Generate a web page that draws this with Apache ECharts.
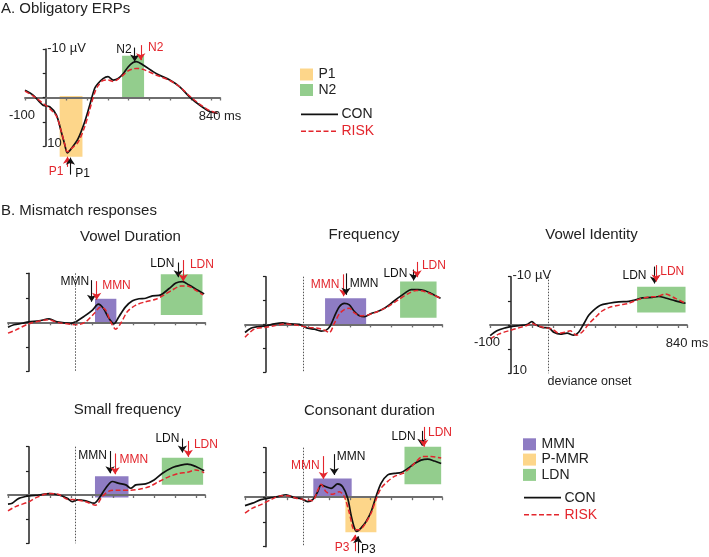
<!DOCTYPE html>
<html><head><meta charset="utf-8">
<script src="https://cdn.jsdelivr.net/npm/echarts@6/dist/echarts.min.js"></script>
<style>html,body{margin:0;padding:0;background:#fff}#c{width:709px;height:557px}</style>
</head><body><div id="c"></div>
<script>
// ---------- DATA (time in ms, amplitude in µV; negative plotted up) ----------
// axis texts: [text, time, µV, anchor]
const axisTexts = [['-10 µV',5,-10.2,'start'],['10',5,9.5,'start'],['-100',-100,3.7,'center'],['840 ms',840,3.9,'center']];

// A. Obligatory ERPs
const aConT  = [-100,-61,-13,19,51,75,92,104,124,156,188,212,236,252,276,300,325,349,373,397,421,437,469,534,598,646,694,743,791,829];
const aConV  = [-1.5,-0.5,1.6,1.9,3.6,7.1,9.8,11.4,10.5,8.5,5.0,1.6,-1.9,-2.9,-3.9,-4.3,-3.6,-3.9,-4.9,-6.3,-7.2,-7.4,-6.7,-4.9,-3.6,-2.2,-0.1,1.6,2.9,3.3];
const aRiskT = [-100,-60,-13,19,51,75,92,104,124,156,188,212,236,252,276,300,325,349,373,397,421,437,469,534,598,646,694,743,791,829];
const aRiskV = [-1.3,-0.3,1.2,2.3,3.8,7.0,9.7,11.2,10.5,9.2,6.0,2.5,-1.0,-2.4,-3.5,-3.6,-3.3,-3.8,-4.6,-5.5,-5.9,-6.0,-5.8,-4.6,-3.5,-2.2,-0.3,1.4,2.7,3.2];
const aAreas  = [['P1',67,177,-0.3,12.2],['N2',368,474,-8.6,0]];
const aArrows = [['CON',429,-10.3,-7.4],['RISK',458,-10.8,-7.7],['RISK',105,14.3,12.2],['CON',119,15.9,12.4]];
const aLabels = [['N2',421,-9.8,'CON','end'],['N2',486,-10.2,'RISK','start'],['P1',92,15.3,'RISK','end'],['P1',135,15.7,'CON','start']];

// Vowel Duration
const vdConT  = [-100,-72,-32,0,48,96,135,199,223,263,303,331,354,382,406,430,462,494,525,557,589,629,669,701,732,764,804,836];
const vdConV  = [1.0,0.5,0.2,-0.1,-0.3,-0.7,-0.1,0.2,-0.1,-1.2,-2.5,-3.7,-2.9,-0.8,0.3,-1.2,-3.2,-4.4,-4.8,-4.9,-5.4,-5.6,-6.9,-8.0,-8.3,-7.6,-6.6,-5.8];
const vdRiskT = [-100,-64,0,96,135,199,231,271,311,342,366,390,414,438,470,510,557,605,637,685,725,756,796,831];
const vdRiskV = [2.2,1.6,0.3,-0.5,0,0.4,0.5,-0.1,-1.8,-3.1,-2.5,-0.1,1.4,0.2,-2.2,-3.5,-4.2,-4.7,-5.4,-6.6,-7.4,-7.4,-6.5,-5.6];
const vdAreas  = [['MMN',315,417,-4.8,0],['LDN',629,828,-9.8,-1.5]];
const vdArrows = [['CON',299,-8.6,-4.2],['RISK',323,-8.4,-4.6],['CON',712,-12.2,-9.2],['RISK',736,-12.7,-8.4]];
const vdLabels = [['MMN',295,-8.2,'CON','end'],['MMN',342,-7.4,'RISK','start'],['LDN',701,-12.0,'CON','end'],['LDN',761,-11.7,'RISK','start']];
const vdOnset = 223;

// Frequency
const frConT  = [-100,-72,-40,0,40,80,119,159,199,231,263,287,307,326,350,374,398,422,446,470,502,533,565,597,629,661,693,725,756,788,833];
const frConV  = [1.7,0.8,0.5,0.3,-0.1,-0.3,-0.1,0,0.8,1.0,1.4,1.2,0.3,-1.6,-3.7,-4.4,-4.1,-2.7,-1.8,-1.6,-2.3,-2.7,-3.4,-4.4,-5.5,-6.5,-7.3,-7.3,-7.1,-6.5,-5.5];
const frRiskT = [-100,-56,0,40,88,151,199,247,279,303,326,350,374,398,422,454,486,533,581,629,677,717,756,796,833];
const frRiskV = [2.7,1.0,0.6,0.3,-0.1,0.2,0.6,0.8,1.2,1.7,-0.2,-2.2,-3.1,-3.4,-2.4,-1.8,-2.0,-2.7,-3.7,-5.1,-6.4,-7.1,-6.9,-6.2,-5.5];
const frAreas  = [['MMN',282,478,-5.5,0.3],['LDN',640,814,-9.0,-1.4]];
const frArrows = [['RISK',371,-10.5,-5.9],['CON',382,-10.7,-6.2],['CON',705,-11.5,-9.2],['RISK',721,-13.1,-9.9]];
const frLabels = [['MMN',358,-8.3,'RISK','end'],['MMN',393,-8.6,'CON','start'],['LDN',682,-10.7,'CON','end'],['LDN',737,-12.3,'RISK','start']];
const frOnset = 178;

// Vowel Identity
const viConT  = [-99,-67,-27,5,45,76,100,116,148,180,204,236,268,299,323,347,371,395,427,467,514,562,594,626,674,705,737,785,833];
const viConV  = [2.2,1.2,0.6,0.3,0.1,-0.1,-0.7,-0.1,0.5,0.6,1.5,1.9,1.7,2.1,1.5,-0.2,-2.0,-3.1,-4.1,-4.5,-4.8,-4.9,-5.2,-5.6,-5.7,-5.9,-5.6,-5.0,-4.5];
const viRiskT = [-99,-59,-11,37,76,100,124,164,196,228,260,283,312,339,371,403,435,467,514,562,610,658,697,737,785,833];
const viRiskV = [2.9,1.9,1.2,0.6,0.1,-0.3,0.1,0.6,0.8,1.7,1.5,1.2,2.1,1.5,-0.2,-1.6,-2.9,-3.6,-4.1,-4.5,-5.3,-5.8,-5.9,-6.4,-5.5,-4.5];
const viAreas  = [['LDN',602,833,-7.9,-2.6]];
const viArrows = [['CON',685,-12.1,-8.6],['RISK',693,-12.4,-9.0]];
const viLabels = [['LDN',654,-10.3,'CON','end'],['LDN',705,-11.0,'RISK','start']];
const viOnset = 180;
const viOnsetText = ['deviance onset',172,11.7];

// Small frequency
const sfConT  = [-100,-80,-48,0,48,96,143,183,207,231,271,311,334,366,398,430,462,486,510,557,597,637,685,725,756,796,836];
const sfConV  = [1.9,1.7,0.7,0.2,0,-0.3,0,0.7,1.4,1.0,1.2,1.7,0.7,-1.4,-2.8,-2.4,-2.1,-1.4,-2.1,-2.3,-3.1,-4.5,-5.7,-6.2,-6.4,-5.9,-5.0];
const sfRiskT = [-100,-64,0,32,96,143,183,231,271,318,350,382,430,486,525,573,621,669,717,756,796,836];
const sfRiskV = [3.3,2.4,1.4,0.6,-0.3,-0.1,0.9,1.0,1.4,2.1,0.3,-0.8,-1.0,-1.0,-1.2,-1.7,-2.8,-3.8,-4.5,-4.7,-5.2,-4.6];
const sfAreas  = [['MMN',315,475,-3.9,0.5],['LDN',634,831,-7.7,-2.1]];
const sfArrows = [['CON',387,-9.1,-4.5],['RISK',411,-8.6,-4.3],['CON',732,-11.7,-8.8],['RISK',760,-11.2,-7.9]];
const sfLabels = [['MMN',379,-8.1,'CON','end'],['MMN',425,-7.4,'RISK','start'],['LDN',725,-11.7,'CON','end'],['LDN',780,-10.5,'RISK','start']];
const sfOnset = 223;

// Consonant duration
const cdConT  = [-100,-64,-24,24,56,96,135,167,199,223,247,263,287,311,342,366,390,406,422,433,454,478,502,525,549,581,613,645,677,709,740,772,804,836];
const cdConV  = [1.7,1.2,0.5,0.1,-0.1,-0.5,0.1,0.3,0.9,0.5,-1.1,-2.5,-2.1,-1.8,-2.7,-2.1,0.2,3.6,6.2,6.9,6.2,4.9,2.9,-0.1,-2.8,-4.5,-4.8,-5.0,-5.8,-6.8,-7.5,-7.7,-7.3,-6.8];
const cdRiskT = [-100,-64,-24,24,72,104,143,183,223,244,263,287,318,350,374,398,422,446,470,502,525,549,581,613,653,685,717,748,788,836];
const cdRiskV = [3.2,2.2,1.5,0.5,-0.3,-0.3,0.2,0.5,0.7,-1.1,-2.6,-1.1,-0.6,-1.1,-0.1,3.2,6.6,6.6,5.6,3.2,0.5,-1.8,-3.2,-4.2,-4.8,-5.8,-7.2,-8.2,-8.2,-7.9];
const cdAreas  = [['MMN',226,409,-3.8,0],['P-MMR',379,527,0,7.1],['LDN',661,836,-10.2,-2.6]];
const cdArrows = [['RISK',274,-8.3,-3.7],['CON',326,-8.7,-4.5],['CON',744,-13.4,-10.4],['RISK',753,-14.2,-10.2],['RISK',425,10.9,7.6],['CON',438,11.3,7.9]];
const cdLabels = [['MMN',263,-6.3,'RISK','end'],['MMN',331,-8.2,'CON','start'],['LDN',721,-12.2,'CON','end'],['LDN',766,-13.1,'RISK','start'],['P3',406,10.3,'RISK','end'],['P3',446,10.6,'CON','start']];
const cdOnset = 178;

const legendA = ['P1','N2'];
const legendB = ['MMN','P-MMR','LDN'];
const groups = ['CON','RISK'];

// ---------- STYLE / LAYOUT ----------
const FONT = '"Liberation Sans", Arial, Helvetica, sans-serif';
const COL = {CON:'#111111', RISK:'#e3262d'};
const AREA_COL = {P1:'#fdd68a', N2:'#93cd8d', MMN:'#8e7cc3', 'P-MMR':'#fdd68a', LDN:'#93cd8d'};
const TXT = '#222';
const YMAX = 10;

const panels = [
  {box:[25,49,195,97],   ov:[-16,16], con:[aConT,aConV],   risk:[aRiskT,aRiskV],   areas:aAreas,  arrows:aArrows,  labels:aLabels,  onset:null,    axisText:true},
  {box:[8,273.3,197,98], ov:[-16,12], con:[vdConT,vdConV], risk:[vdRiskT,vdRiskV], areas:vdAreas, arrows:vdArrows, labels:vdLabels, onset:vdOnset, axisText:false},
  {box:[245,276.7,197,95.4], ov:[-16,12], con:[frConT,frConV], risk:[frRiskT,frRiskV], areas:frAreas, arrows:frArrows, labels:frLabels, onset:frOnset, axisText:false},
  {box:[490,276.7,197,96.6], ov:[-16,12], con:[viConT,viConV], risk:[viRiskT,viRiskV], areas:viAreas, arrows:viArrows, labels:viLabels, onset:viOnset, axisText:true, onsetText:viOnsetText},
  {box:[8,446.7,197,96.6], ov:[-16,12], con:[sfConT,sfConV], risk:[sfRiskT,sfRiskV], areas:sfAreas, arrows:sfArrows, labels:sfLabels, onset:sfOnset, axisText:false},
  {box:[245,447.7,197,99], ov:[-16,12], con:[cdConT,cdConV], risk:[cdRiskT,cdRiskV], areas:cdAreas, arrows:cdArrows, labels:cdLabels, onset:cdOnset, axisText:false}
];

const zip = (t, v) => t.map((x, i) => [x, v[i]]);
const POS = {end:'left', start:'right', center:'inside'};

const option = {animation:false, grid:[], xAxis:[], yAxis:[], series:[], graphic:[]};

panels.forEach(p => {
  const [L, T, W, H] = p.box;
  const gi = option.grid.length;
  const unit = H / (2 * YMAX);
  const oTop = T - (-YMAX - p.ov[0]) * unit;
  const oH = (p.ov[1] - p.ov[0]) * unit;
  option.grid.push({left:L, top:T, width:W, height:H, outerBoundsMode:'none', containLabel:false});
  option.grid.push({left:L, top:oTop, width:W, height:oH, outerBoundsMode:'none', containLabel:false});
  option.xAxis.push({
    gridIndex:gi, type:'value', min:-100, max:840, interval:100, z:2,
    axisLine:{onZero:true, lineStyle:{color:'#6e6e6e', width:1.8}},
    axisTick:{show:true, length:3, lineStyle:{color:'#6e6e6e', width:1.3}},
    axisLabel:{show:false}, splitLine:{show:false}
  });
  option.yAxis.push({
    gridIndex:gi, type:'value', inverse:true, min:-YMAX, max:YMAX, interval:5, z:2,
    axisLine:{onZero:true, lineStyle:{color:'#222', width:1.5}},
    axisTick:{show:true, length:3, lineStyle:{color:'#222', width:1.2}},
    axisLabel:{show:false}, splitLine:{show:false}
  });
  option.xAxis.push({gridIndex:gi + 1, type:'value', min:-100, max:840, show:false});
  option.yAxis.push({gridIndex:gi + 1, type:'value', inverse:true, min:p.ov[0], max:p.ov[1], show:false});

  option.series.push({type:'line', xAxisIndex:gi, yAxisIndex:gi, data:[], silent:true});

  const ai = gi + 1;
  let texts = p.labels.map(l => ({name:l[0], coord:[l[1], l[2]],
    label:{show:true, position:POS[l[4]], distance:1, formatter:q => q.name,
      fontFamily:FONT, fontSize:12, color:COL[l[3]]}}));
  if (p.axisText) {
    texts = texts.concat(axisTexts.map(a => ({name:a[0], coord:[a[1], a[2]],
      label:{show:true, position:POS[a[3]], distance:0, formatter:q => q.name,
        offset:a[1] < 0 ? [-3, 0] : [0, 0],
        fontFamily:FONT, fontSize:13, color:TXT}})));
  }
  if (p.onsetText) {
    const o = p.onsetText;
    texts.push({name:o[0], coord:[o[1], o[2]],
      label:{show:true, position:'right', distance:0, formatter:q => q.name,
        fontFamily:FONT, fontSize:12.5, color:TXT}});
  }
  option.series.push({
    type:'line', xAxisIndex:ai, yAxisIndex:ai, z:3, silent:true,
    data:zip(p.con[0], p.con[1]), showSymbol:false, symbol:'none', smooth:0.3,
    lineStyle:{color:COL.CON, width:1.7},
    markArea:{silent:true, z:1, data:p.areas.map(a => [
      {coord:[a[1], a[3]], itemStyle:{color:AREA_COL[a[0]], opacity:1}},
      {coord:[a[2], a[4]]}
    ])},
    markLine:{silent:true, animation:false, symbol:['none','arrow'], symbolSize:7,
      label:{show:false},
      data:p.arrows.map(a => [
        {coord:[a[1], a[2]], symbol:'none', lineStyle:{color:COL[a[0]], width:1.1, type:'solid'}, itemStyle:{color:COL[a[0]]}},
        {coord:[a[1], a[3]], symbol:'arrow', symbolSize:7, itemStyle:{color:COL[a[0]]}}
      ])},
    markPoint:{silent:true, animation:false, symbol:'circle', symbolSize:1,
      itemStyle:{color:'rgba(0,0,0,0)'}, data:texts}
  });
  const riskSeries = {
    type:'line', xAxisIndex:ai, yAxisIndex:ai, z:4, silent:true,
    data:zip(p.risk[0], p.risk[1]), showSymbol:false, symbol:'none', smooth:0.3,
    lineStyle:{color:COL.RISK, width:1.5, type:[5,2.5]}
  };
  if (p.onset !== null) {
    riskSeries.markLine = {silent:true, animation:false, symbol:['none','none'], label:{show:false},
      data:[[{coord:[p.onset, -YMAX], lineStyle:{color:'#555', width:1, type:[1.5,1.5]}}, {coord:[p.onset, YMAX]}]]};
  }
  option.series.push(riskSeries);
});

// ---------- TITLES & LEGENDS ----------
const text = (x, y, s, opt) => ({type:'text', x, y, style:Object.assign({text:s, font:'15px ' + FONT, fill:TXT, textVerticalAlign:'middle', textAlign:'left'}, opt || {})});
option.graphic.push(
  text(1, 9, 'A. Obligatory ERPs'),
  text(1, 211, 'B. Mismatch responses'),
  text(130.5, 237, 'Vowel Duration', {textAlign:'center'}),
  text(364, 235, 'Frequency', {textAlign:'center'}),
  text(591.5, 235, 'Vowel Identity', {textAlign:'center'}),
  text(127.5, 410, 'Small frequency', {textAlign:'center'}),
  text(369.5, 411, 'Consonant duration', {textAlign:'center'})
);
function legend(x, y0, names, step, lineY) {
  names.forEach((n, i) => {
    option.graphic.push({type:'rect', shape:{x:x, y:y0 + i * step - 6, width:13, height:12}, style:{fill:AREA_COL[n]}});
    option.graphic.push(text(x + 18.5, y0 + i * step, n, {font:'14px ' + FONT}));
  });
  groups.forEach((g, i) => {
    const y = lineY + i * 17;
    option.graphic.push({type:'line', shape:{x1:x + 1, y1:y, x2:x + 38, y2:y},
      style:{stroke:COL[g], lineWidth:g === 'CON' ? 1.7 : 1.5, lineDash:g === 'CON' ? null : [5, 2.5]}});
    option.graphic.push(text(x + 41.5, y, g, {font:'14px ' + FONT, fill:g === 'CON' ? TXT : COL.RISK}));
  });
}
legend(300, 74.5, legendA, 15.5, 114.3);
legend(523, 444.3, legendB, 15.3, 497.7);

const chart = echarts.init(document.getElementById('c'), null, {renderer:'canvas'});
chart.setOption(option);
</script></body></html>
